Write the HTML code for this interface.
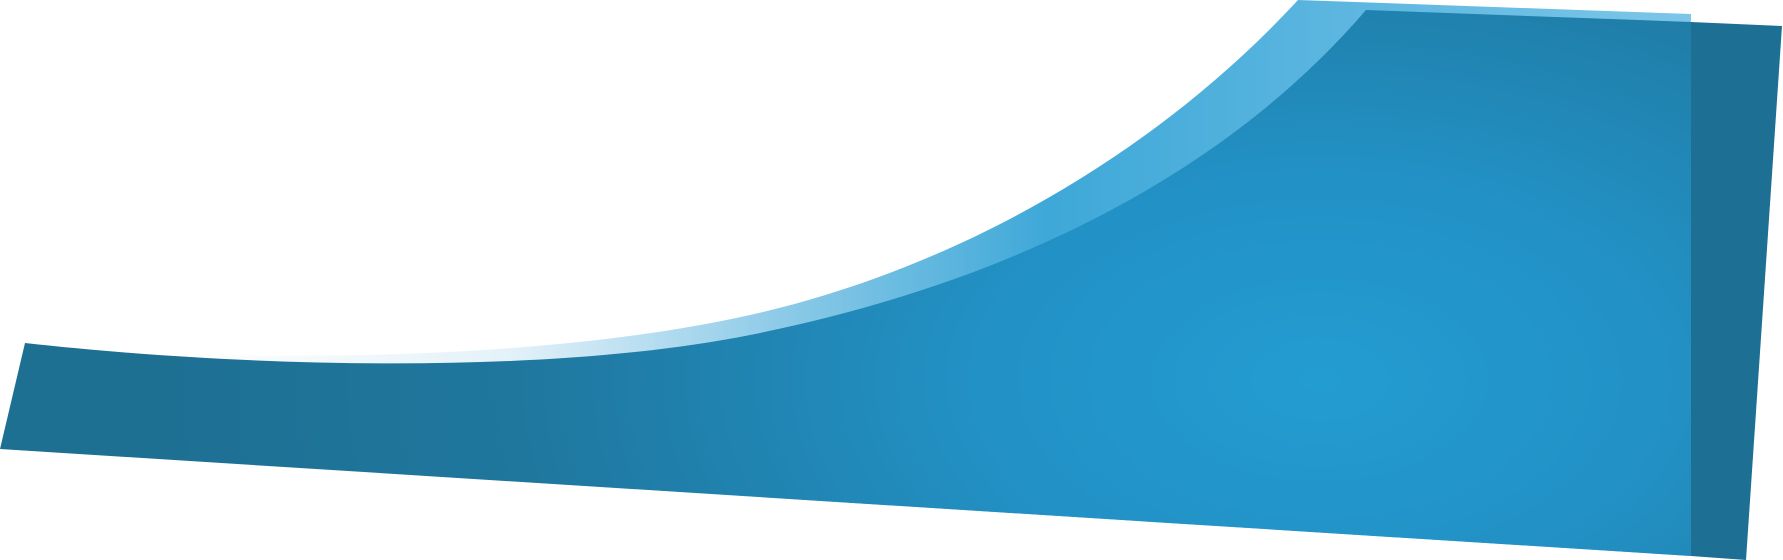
<!DOCTYPE html>
<html><head><meta charset="utf-8"><style>
html,body{margin:0;padding:0;background:#fff;width:1783px;height:560px;overflow:hidden}
svg{display:block}
</style></head><body>
<svg width="1783" height="560" viewBox="0 0 1783 560" xmlns="http://www.w3.org/2000/svg">
<defs>
<linearGradient id="hl" x1="0" y1="0" x2="1691" y2="0" gradientUnits="userSpaceOnUse">
<stop offset="0.1" stop-color="#ffffff"/>
<stop offset="0.3" stop-color="#e4f2f9"/>
<stop offset="0.45" stop-color="#93cde9"/>
<stop offset="0.62" stop-color="#3ea8d8"/>
<stop offset="0.78" stop-color="#5ab5df"/>
<stop offset="1" stop-color="#7cc6e8"/>
</linearGradient>
<radialGradient id="body" cx="1320" cy="380" r="1150" gradientUnits="userSpaceOnUse" gradientTransform="translate(1320 380) scale(1 0.6) translate(-1320 -380)">
<stop offset="0" stop-color="#239cd2"/>
<stop offset="0.3" stop-color="#2291c5"/>
<stop offset="0.7" stop-color="#1f779e"/>
<stop offset="1" stop-color="#1e7093"/>
</radialGradient>
</defs>
<path fill="url(#hl)" d="M25,343 C250,365 550,360 750,315 C950,270 1150,160 1298,0 L1691,14 L1691,556 L0,449 Z"/>
<path fill="url(#body)" d="M25,343 C250,368 550,375 750,335 C1000,285 1220,180 1366,10 L1691,22 L1691,556 L0,449 Z"/>
<path fill="#1d6f94" d="M1691,22 L1782,26 L1746,560 L1691,556 Z"/>
</svg>
</body></html>
